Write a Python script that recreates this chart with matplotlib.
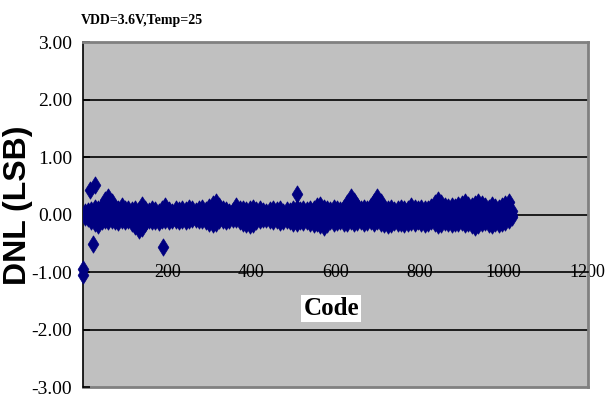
import numpy as np
import matplotlib
matplotlib.use("Agg")
import matplotlib.pyplot as plt

codes = np.arange(4, 1024, 8)
dnl_hi = [
    0.05, 0.06, 0.08, 0.12, 0.10, 0.15, 0.25, 0.31, 0.22, 0.12, 0.10, 0.14, 0.10, 0.09, 0.08, 0.10,
    0.08, 0.17, 0.10, 0.06, 0.09, 0.07, 0.05, 0.10, 0.14, 0.08, 0.05, 0.09, 0.07, 0.10, 0.08, 0.12,
    0.10, 0.06, 0.09, 0.12, 0.08, 0.13, 0.18, 0.21, 0.15, 0.09, 0.07, 0.04, 0.06, 0.14, 0.10, 0.09,
    0.08, 0.10, 0.12, 0.08, 0.09, 0.06, 0.05, 0.08, 0.10, 0.07, 0.09, 0.05, 0.08, 0.06, 0.10, 0.12,
    0.07, 0.09, 0.08, 0.10, 0.09, 0.14, 0.17, 0.12, 0.10, 0.08, 0.12, 0.10, 0.08, 0.12, 0.20, 0.31,
    0.24, 0.14, 0.09, 0.12, 0.10, 0.14, 0.22, 0.30, 0.22, 0.12, 0.10, 0.12, 0.08, 0.09, 0.11, 0.09,
    0.10, 0.15, 0.11, 0.10, 0.12, 0.09, 0.10, 0.13, 0.20, 0.26, 0.20, 0.14, 0.13, 0.15, 0.13, 0.16,
    0.18, 0.21, 0.16, 0.14, 0.19, 0.21, 0.18, 0.14, 0.11, 0.16, 0.13, 0.12, 0.15, 0.18, 0.21, 0.06,
]
dnl_mid = [
    0.00, 0.01, -0.02, 0.02, 0.00, 0.03, 0.05, 0.08, 0.06, 0.01, -0.01, 0.02, 0.00, -0.02, -0.03, -0.06,
    -0.10, -0.08, -0.03, 0.00, 0.01, -0.01, 0.00, 0.02, 0.03, 0.00, -0.02, 0.01, 0.00, 0.02, -0.01, 0.01,
    0.02, 0.00, -0.01, 0.02, 0.00, 0.01, 0.04, 0.06, 0.03, 0.00, -0.02, -0.01, 0.00, 0.03, 0.01, -0.02,
    -0.04, -0.05, -0.02, 0.00, 0.01, -0.01, 0.00, 0.01, 0.00, -0.01, 0.00, -0.02, 0.00, -0.01, 0.00, 0.02,
    0.00, -0.01, 0.01, -0.02, -0.03, 0.01, 0.00, -0.04, -0.02, 0.00, 0.01, -0.01, 0.00, 0.01, 0.05, 0.09,
    0.06, 0.02, 0.00, -0.01, 0.00, 0.02, 0.06, 0.08, 0.05, 0.00, -0.02, -0.01, 0.00, -0.01, 0.00, -0.02,
    0.00, 0.02, 0.00, -0.01, 0.00, -0.02, 0.00, 0.01, 0.04, 0.06, 0.03, 0.01, 0.00, 0.01, 0.00, 0.02,
    0.03, 0.04, 0.01, 0.00, 0.02, 0.03, 0.02, 0.00, -0.01, 0.01, 0.00, -0.01, 0.01, 0.02, 0.04, 0.00,
]
dnl_lo = [
    -0.05, -0.06, -0.12, -0.15, -0.18, -0.12, -0.10, -0.12, -0.09, -0.11, -0.13, -0.10, -0.12, -0.09, -0.14, -0.20,
    -0.27, -0.24, -0.14, -0.10, -0.12, -0.11, -0.13, -0.10, -0.09, -0.12, -0.10, -0.09, -0.11, -0.10, -0.12, -0.09,
    -0.07, -0.08, -0.10, -0.09, -0.12, -0.14, -0.16, -0.14, -0.10, -0.09, -0.12, -0.10, -0.08, -0.07, -0.11, -0.14,
    -0.17, -0.19, -0.16, -0.11, -0.10, -0.08, -0.07, -0.09, -0.12, -0.10, -0.13, -0.11, -0.10, -0.12, -0.15, -0.14,
    -0.12, -0.13, -0.11, -0.15, -0.17, -0.14, -0.19, -0.21, -0.17, -0.12, -0.14, -0.13, -0.11, -0.14, -0.15, -0.12,
    -0.15, -0.13, -0.12, -0.15, -0.13, -0.11, -0.14, -0.12, -0.15, -0.17, -0.19, -0.16, -0.13, -0.15, -0.14, -0.16,
    -0.15, -0.13, -0.14, -0.12, -0.15, -0.17, -0.14, -0.12, -0.15, -0.19, -0.17, -0.13, -0.15, -0.17, -0.15, -0.14,
    -0.13, -0.16, -0.14, -0.18, -0.21, -0.19, -0.15, -0.13, -0.16, -0.18, -0.15, -0.17, -0.14, -0.13, -0.10, -0.05,
]
# isolated points
out_codes = [0, 0, 17, 29, 24, 190, 509]
out_dnl = [-0.94, -1.06, 0.42, 0.52, -0.52, -0.57, 0.35]

y_ticks = [3, 2, 1, 0, -1, -2, -3]
y_labels = ["3.00", "2.00", "1.00", "0.00", "-1.00", "-2.00", "-3.00"]
grid_levels = [2, 1, 0, -2]
x_ticks = [200, 400, 600, 800, 1000, 1200]

navy = "#000080"
serif = "Liberation Serif"
# tall narrow diamond like the Excel marker
diamond = [(0, 1), (0.62, 0), (0, -1), (-0.62, 0), (0, 1)]
mk = dict(marker=diamond, linestyle="none", color=navy, markersize=12.5,
          mew=0.5, mec=navy, zorder=3)

fig = plt.figure(figsize=(6.06, 4.03), dpi=100)
ax = fig.add_axes([0.137, 0.0397, 0.833, 0.856])
ax.set_facecolor("#c0c0c0")
ax.set_xlim(0, 1200)
ax.set_ylim(-3, 3)

ax.hlines(grid_levels, 0, 1200, color="black", lw=1.2, zorder=1)
ax.axhline(-3, color="#808080", lw=2, clip_on=False, zorder=1)

for s in ["top", "right"]:
    ax.spines[s].set_color("#808080")
    ax.spines[s].set_linewidth(2)
ax.spines["left"].set_color("black")
ax.spines["left"].set_linewidth(1.2)
ax.spines["bottom"].set_position(("data", -1))
ax.spines["bottom"].set_linewidth(1.2)

for vals in (dnl_hi, dnl_mid, dnl_lo):
    ax.plot(codes, vals, **mk)
ax.plot(out_codes, out_dnl, clip_on=False, **mk)

ax.set_yticks(y_ticks)
ax.set_yticklabels(y_labels, fontfamily=serif, fontsize=14)
ax.tick_params(axis="y", direction="in", length=5, width=1.2, pad=8)

ax.set_xticks(x_ticks)
ax.set_xticklabels([str(v) for v in x_ticks], fontfamily=serif, fontsize=13)
ax.tick_params(axis="x", length=0, pad=-6)

ax.text(590, -1.63, "Code", fontfamily=serif, fontweight="bold", fontsize=18,
        ha="center", va="center",
        bbox=dict(facecolor="white", edgecolor="none", pad=1.5))

fig.text(0.029, 0.49, "DNL (LSB)", rotation=90, fontfamily="Liberation Sans",
         fontweight="bold", fontsize=23, ha="center", va="center")
fig.text(0.133, 0.949, "VDD=3.6V,Temp=25", fontfamily=serif, fontweight="bold",
         fontsize=10, ha="left", va="center")

fig.savefig("out.png", dpi=100)
